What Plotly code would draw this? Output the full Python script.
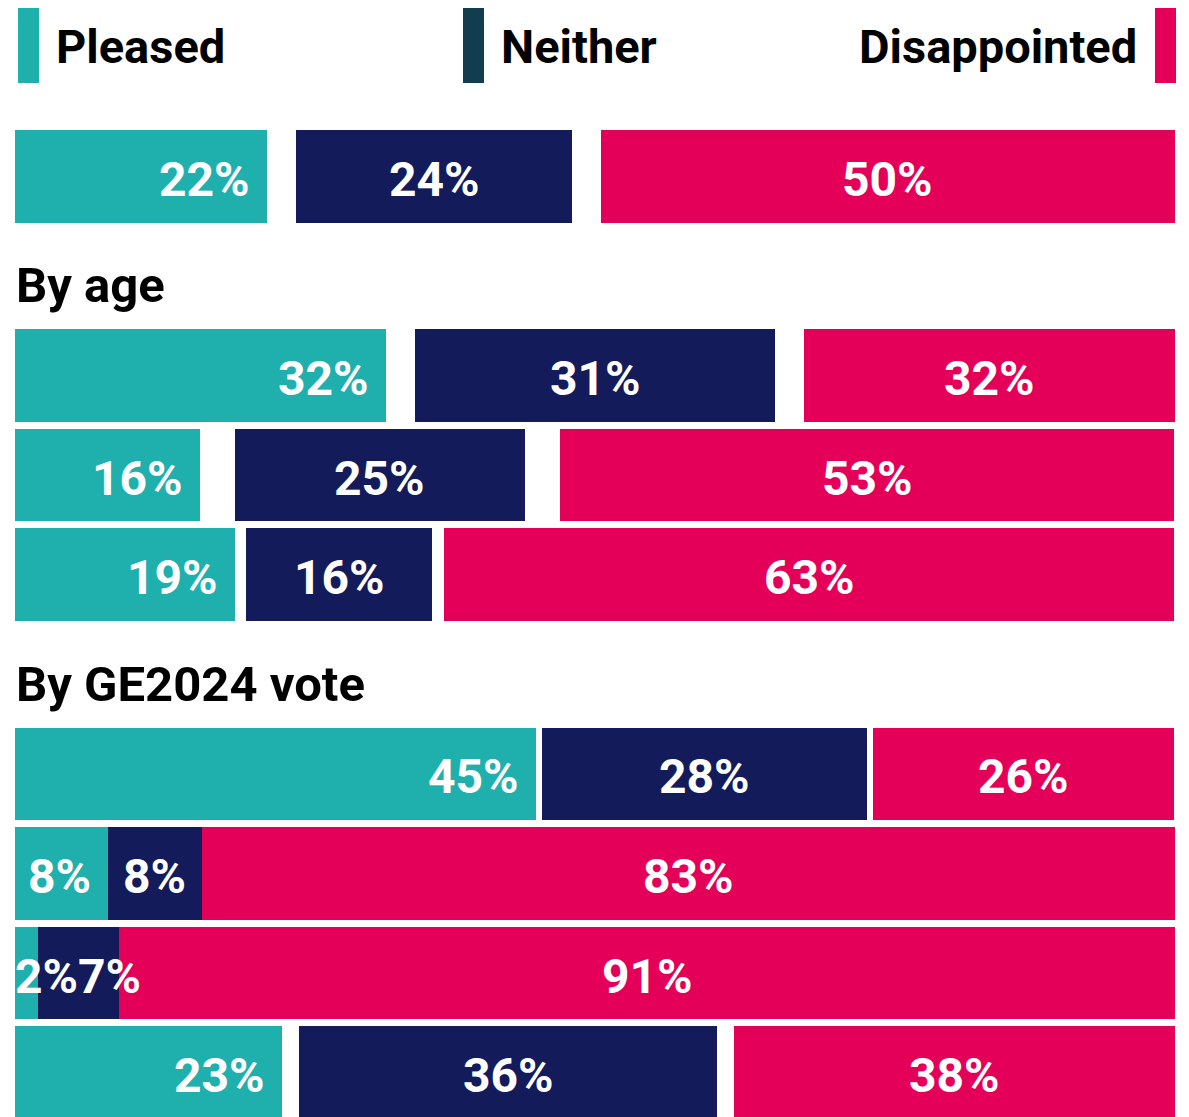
import plotly.graph_objects as go

# ---------------- data ----------------
section_titles = ["", "By age", "By GE2024 vote"]
section_sizes = [1, 3, 4]

pleased = [21.75, 32.0, 15.95, 18.95, 44.95, 8.0, 2.0, 23.0]
neither = [23.8, 31.0, 25.0, 16.0, 28.0, 8.1, 7.0, 36.0]
disappointed = [49.5, 32.0, 53.0, 63.0, 26.0, 83.9, 91.0, 38.0]
dont_know = [4.95, 5.0, 6.0, 2.0, 1.0, 0.0, 0.0, 3.0]

pleased_labels = ["22%", "32%", "16%", "19%", "45%", "8%", "2%", "23%"]
neither_labels = ["24%", "31%", "25%", "16%", "28%", "8%", "7%", "36%"]
disappointed_labels = ["50%", "32%", "53%", "63%", "26%", "83%", "91%", "38%"]

series_names = ["Pleased", "Neither", "Disappointed"]

# ---------------- style ----------------
TEAL = "#1fb0ae"
NAVY = "#131b5a"
PINK = "#e40059"
LEGEND_NEITHER = "#123d4e"
FONT = "Roboto"

# page geometry (browser body has an 8px margin)
PAGE_W, PAGE_H = 1189, 1117
OFF = 8
W, H = PAGE_W - OFF, PAGE_H - OFF
PLOT_L, PLOT_R = 15, 1175          # page pixels of 0% and 100%
ML = PLOT_L - OFF
MR = W - (PLOT_R - OFF)
PW = W - ML - MR
ROW_PX = 99.6
FIRST_ROW_CENTER = 176.3           # page pixel

# row positions derived from section structure
row_pos = []
heading_pos = []
p = 0
for title, n in zip(section_titles, section_sizes):
    if title:
        heading_pos.append(p)
        p += 1
    for _ in range(n):
        row_pos.append(p)
        p += 1

half_gap = [d / 2 for d in dont_know]
BAR_W = 0.93

fig = go.Figure()


def add(xvals, color, name):
    fig.add_trace(go.Bar(
        x=xvals, y=row_pos, orientation="h", width=BAR_W,
        marker=dict(color=color, line=dict(width=0)),
        name=name, hoverinfo="skip", showlegend=False,
    ))


add(pleased, TEAL, series_names[0])
add(half_gap, "rgba(0,0,0,0)", "gap1")
add(neither, NAVY, series_names[1])
add(half_gap, "rgba(0,0,0,0)", "gap2")
add(disappointed, PINK, series_names[2])

annotations = []
label_font = dict(family=FONT, size=48, color="white", weight=700)
LY = -3

for i, y in enumerate(row_pos):
    tiny = pleased[i] < 5
    if tiny:
        annotations.append(dict(x=0, y=y, xref="x", yref="y", text=pleased_labels[i],
                                xanchor="left", yanchor="middle", xshift=-2, yshift=LY,
                                showarrow=False, font=label_font))
    else:
        annotations.append(dict(x=pleased[i], y=y, xref="x", yref="y", text=pleased_labels[i],
                                xanchor="right", yanchor="middle", xshift=-15, yshift=LY,
                                showarrow=False, font=label_font))
    n_start = pleased[i] + half_gap[i]
    if tiny:
        annotations.append(dict(x=0, y=y, xref="x", yref="y", text=neither_labels[i],
                                xanchor="left", yanchor="middle", xshift=61, yshift=LY,
                                showarrow=False, font=label_font))
    else:
        annotations.append(dict(x=n_start + neither[i] / 2, y=y, xref="x", yref="y",
                                text=neither_labels[i], xanchor="center", yanchor="middle",
                                yshift=LY, showarrow=False, font=label_font))
    d_start = n_start + neither[i] + half_gap[i]
    annotations.append(dict(x=d_start + disappointed[i] / 2, y=y, xref="x", yref="y",
                            text=disappointed_labels[i], xanchor="center", yanchor="middle",
                            yshift=LY, showarrow=False, font=label_font))

# section headings
for title, hp in zip([t for t in section_titles if t], heading_pos):
    annotations.append(dict(x=0, y=hp + 0.1, xref="x", yref="y", text=title,
                            xanchor="left", yanchor="middle", xshift=-1,
                            showarrow=False,
                            font=dict(family=FONT, size=49, color="black", weight=700)))


def px_x(px):
    return (px - PLOT_L) / PW


def px_y(py):
    return (H - (py - OFF)) / H


shapes = []
legend_font = dict(family=FONT, size=47, color="black", weight=700)
for x0, x1, col in [(18, 39, TEAL), (463, 484, LEGEND_NEITHER), (1155, 1176, PINK)]:
    shapes.append(dict(type="rect", xref="paper", yref="paper",
                       x0=px_x(x0), x1=px_x(x1), y0=px_y(83), y1=px_y(8),
                       fillcolor=col, line=dict(width=0), layer="above"))
annotations.append(dict(x=px_x(54), y=px_y(46), xref="paper", yref="paper",
                        text=series_names[0], xanchor="left", yanchor="middle",
                        showarrow=False, font=legend_font))
annotations.append(dict(x=px_x(499), y=px_y(46), xref="paper", yref="paper",
                        text=series_names[1], xanchor="left", yanchor="middle",
                        showarrow=False, font=legend_font))
annotations.append(dict(x=px_x(1139), y=px_y(46), xref="paper", yref="paper",
                        text=series_names[2], xanchor="right", yanchor="middle",
                        showarrow=False, font=legend_font))

# y range: plot area spans page pixels OFF..PAGE_H
ymin = (OFF - FIRST_ROW_CENTER) / ROW_PX
ymax = (PAGE_H - FIRST_ROW_CENTER) / ROW_PX

fig.update_layout(
    width=W, height=H,
    margin=dict(l=ML, r=MR, t=0, b=0, pad=0),
    barmode="stack", bargap=0,
    paper_bgcolor="white", plot_bgcolor="white",
    xaxis=dict(range=[0, 100], visible=False, fixedrange=True),
    yaxis=dict(range=[ymax, ymin], visible=False, fixedrange=True),
    annotations=annotations, shapes=shapes,
    showlegend=False,
)

fig.write_html("out.html", config={"displayModeBar": False})
